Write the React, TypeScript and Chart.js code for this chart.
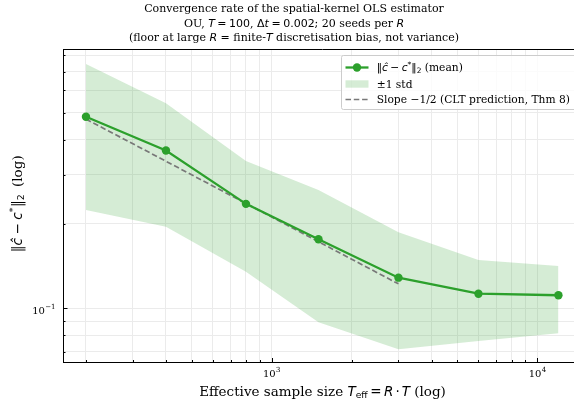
import React, { useEffect, useRef } from "react";
import { Chart, registerables } from "chart.js";

Chart.register(...registerables);

// ---------- data ----------
const T_EFF = [200, 400, 800, 1500, 3000, 6000, 12000];
const MEAN_ERR = [0.483, 0.366, 0.236, 0.1764, 0.1286, 0.1127, 0.1113];
const STD_UPPER = [0.746, 0.54, 0.336, 0.2646, 0.187, 0.1488, 0.1416];
const STD_LOWER = [0.2244, 0.1956, 0.135, 0.0891, 0.0714, 0.0764, 0.0814];
const SLOPE_X = [200, 3000];
const SLOPE_Y = [0.474, 0.1222];
const X_LIMITS = [163.9, 14720];
const Y_LIMITS = [0.064, 0.8366];

const LABEL_MEAN = "‖ĉ − c*‖₂ (mean)";
const LABEL_STD = "±1 std";
const LABEL_SLOPE = "Slope −1/2 (CLT prediction, Thm 8)";

// ---------- styles ----------
const GREEN = "#2ca02c";
const BAND = "rgba(44,160,44,0.2)";
const SLOPE_GRAY = "#787878";
const GRID = "#ebebeb";

const SERIF = '"DejaVu Serif", serif';
const SANS = '"DejaVu Sans", sans-serif';
const sf = (s: number) => `${s}px ${SERIF}`;
const mi = (s: number) => `italic ${s}px ${SANS}`;
const mr = (s: number) => `${s}px ${SANS}`;

type Seg = { t: string; f: string; dy?: number; pre?: number; post?: number };

const TS = 11; // title size
const TITLE_LINES: Seg[][] = [
  [{ t: "Convergence rate of the spatial-kernel OLS estimator", f: sf(TS) }],
  [
    { t: "OU, ", f: sf(TS) },
    { t: "T", f: mi(TS) },
    { t: "=", f: mr(TS), pre: 2.5, post: 2.5 },
    { t: "100", f: mr(TS) },
    { t: ", ", f: sf(TS) },
    { t: "Δ", f: mr(TS) },
    { t: "t", f: mi(TS) },
    { t: "=", f: mr(TS), pre: 2.5, post: 2.5 },
    { t: "0.002", f: mr(TS) },
    { t: "; 20 seeds per ", f: sf(TS) },
    { t: "R", f: mi(TS) },
  ],
  [
    { t: "(floor at large ", f: sf(TS) },
    { t: "R", f: mi(TS) },
    { t: " = finite-", f: sf(TS) },
    { t: "T", f: mi(TS) },
    { t: " discretisation bias, not variance)", f: sf(TS) },
  ],
];

const LS = 13.5; // axis label size
const X_LABEL: Seg[] = [
  { t: "Effective sample size ", f: sf(LS) },
  { t: "T", f: mi(LS) },
  { t: "eff", f: mr(LS * 0.68), dy: 2.8 },
  { t: "=", f: mr(LS), pre: 2.5, post: 2.5 },
  { t: "R", f: mi(LS) },
  { t: "·", f: mr(LS), pre: 2, post: 2 },
  { t: "T", f: mi(LS) },
  { t: " (log)", f: sf(LS) },
];
const Y_LABEL: Seg[] = [
  { t: "‖", f: mr(LS) },
  { t: "ĉ", f: mi(LS) },
  { t: "−", f: mr(LS), pre: 3.5, post: 3.5 },
  { t: "c", f: mi(LS) },
  { t: "*", f: mr(LS * 0.7), dy: -5.5 },
  { t: "‖", f: mr(LS), pre: 0.5 },
  { t: "2", f: mr(LS * 0.7), dy: 2.8, post: 3 },
  { t: " (log)", f: sf(LS) },
];

const GS = 10.7; // legend size
const LEGEND_RICH: Record<string, Seg[]> = {
  [LABEL_MEAN]: [
    { t: "‖", f: mr(GS) },
    { t: "ĉ", f: mi(GS) },
    { t: "−", f: mr(GS), pre: 2.4, post: 2.4 },
    { t: "c", f: mi(GS) },
    { t: "*", f: mr(GS * 0.7), dy: -4.5 },
    { t: "‖", f: mr(GS) },
    { t: "2", f: mr(GS * 0.7), dy: 2.2 },
    { t: " (mean)", f: sf(GS) },
  ],
  [LABEL_STD]: [{ t: LABEL_STD, f: sf(GS) }],
  [LABEL_SLOPE]: [{ t: LABEL_SLOPE, f: sf(GS) }],
};

const KS = 10; // tick label size

// ---------- helpers ----------
function richWidth(ctx: CanvasRenderingContext2D, segs: Seg[]) {
  let w = 0;
  for (const s of segs) {
    ctx.font = s.f;
    w += (s.pre || 0) + ctx.measureText(s.t).width + (s.post || 0);
  }
  return w;
}
function drawRich(
  ctx: CanvasRenderingContext2D,
  segs: Seg[],
  x: number,
  y: number,
  align: "left" | "center" | "right"
) {
  const w = richWidth(ctx, segs);
  let cx = align === "center" ? x - w / 2 : align === "right" ? x - w : x;
  ctx.textAlign = "left";
  ctx.textBaseline = "alphabetic";
  for (const s of segs) {
    ctx.font = s.f;
    cx += s.pre || 0;
    ctx.fillText(s.t, cx, y + (s.dy || 0));
    cx += ctx.measureText(s.t).width + (s.post || 0);
  }
}
function isPow10(v: number) {
  const l = Math.log10(v);
  return Math.abs(l - Math.round(l)) < 1e-9;
}
function isDecadeMultiple(v: number) {
  const e = Math.floor(Math.log10(v) + 1e-12);
  const m = v / Math.pow(10, e);
  return Math.abs(m - Math.round(m)) < 1e-6;
}
function powLabel(v: number): Seg[] {
  const e = Math.round(Math.log10(v));
  const es = e < 0 ? "−" + String(-e) : String(e);
  return [
    { t: "10", f: sf(KS) },
    { t: es, f: sf(KS * 0.7), dy: -4.5, pre: 0.3 },
  ];
}
function filterTicks(scale: any) {
  scale.ticks = scale.ticks.filter((t: any) => isDecadeMultiple(t.value));
}

const decor = {
  id: "decor",
  afterDraw(chart: any) {
    const ctx: CanvasRenderingContext2D = chart.ctx;
    const a = chart.chartArea;
    const xs = chart.scales.x;
    const ys = chart.scales.y;
    ctx.save();
    ctx.fillStyle = "#000";
    ctx.strokeStyle = "#000";
    ctx.lineWidth = 1;

    // top / right spines
    ctx.beginPath();
    ctx.moveTo(a.left, Math.round(a.top) - 0.5);
    ctx.lineTo(a.right, Math.round(a.top) - 0.5);
    ctx.moveTo(Math.round(a.right) + 0.5, a.top);
    ctx.lineTo(Math.round(a.right) + 0.5, a.bottom);
    ctx.stroke();

    // inward ticks
    ctx.beginPath();
    for (const t of xs.ticks) {
      const px = Math.round(xs.getPixelForValue(t.value)) + 0.5;
      const len = isPow10(t.value) ? 4.5 : 2.5;
      ctx.moveTo(px, a.bottom);
      ctx.lineTo(px, a.bottom - len);
    }
    for (const t of ys.ticks) {
      const py = Math.round(ys.getPixelForValue(t.value)) + 0.5;
      const len = isPow10(t.value) ? 4.5 : 2.5;
      ctx.moveTo(a.left, py);
      ctx.lineTo(a.left + len, py);
    }
    ctx.stroke();

    // tick labels (decades only)
    for (const t of xs.ticks) {
      if (!isPow10(t.value)) continue;
      drawRich(ctx, powLabel(t.value), xs.getPixelForValue(t.value), a.bottom + 14, "center");
    }
    for (const t of ys.ticks) {
      if (!isPow10(t.value)) continue;
      drawRich(ctx, powLabel(t.value), a.left - 7.5, ys.getPixelForValue(t.value) + 5.5, "right");
    }

    // axis labels
    drawRich(ctx, X_LABEL, (a.left + a.right) / 2, 395.5, "center");
    ctx.save();
    ctx.translate(21.5, (a.top + a.bottom) / 2 - 2.5);
    ctx.rotate(-Math.PI / 2);
    drawRich(ctx, Y_LABEL, 0, 0, "center");
    ctx.restore();

    // title
    const baselines = [12.3, 26.7, 41.3];
    TITLE_LINES.forEach((segs, i) => drawRich(ctx, segs, 294, baselines[i], "center"));

    // legend
    const bx = 341.5;
    const by = 55.5;
    const bw = 235;
    const bh = 54;
    const r = 2;
    ctx.beginPath();
    ctx.moveTo(bx + r, by);
    ctx.lineTo(bx + bw - r, by);
    ctx.arcTo(bx + bw, by, bx + bw, by + r, r);
    ctx.lineTo(bx + bw, by + bh - r);
    ctx.arcTo(bx + bw, by + bh, bx + bw - r, by + bh, r);
    ctx.lineTo(bx + r, by + bh);
    ctx.arcTo(bx, by + bh, bx, by + bh - r, r);
    ctx.lineTo(bx, by + r);
    ctx.arcTo(bx, by, bx + r, by, r);
    ctx.closePath();
    ctx.fillStyle = "rgba(255,255,255,0.8)";
    ctx.fill();
    ctx.strokeStyle = "#cccccc";
    ctx.stroke();

    const ds = chart.data.datasets;
    const entries = [ds[0], ds[2], ds[1]];
    const rowsMid = [67.5, 84, 99.5];
    const rowsBase = [71, 87.5, 102.7];
    const hx0 = 345.5;
    const hx1 = 368.5;
    entries.forEach((d: any, i: number) => {
      const y = rowsMid[i];
      if (d.fill) {
        ctx.fillStyle = d.backgroundColor;
        ctx.fillRect(hx0, y - 3.7, hx1 - hx0, 7.4);
      } else {
        ctx.strokeStyle = d.borderColor;
        ctx.lineWidth = d.borderWidth;
        ctx.setLineDash(d.borderDash || []);
        ctx.beginPath();
        ctx.moveTo(hx0, y);
        ctx.lineTo(hx1, y);
        ctx.stroke();
        ctx.setLineDash([]);
        if (d.pointRadius > 0) {
          ctx.fillStyle = d.pointBackgroundColor;
          ctx.beginPath();
          ctx.arc((hx0 + hx1) / 2, y, d.pointRadius, 0, Math.PI * 2);
          ctx.fill();
        }
      }
      ctx.fillStyle = "#000";
      drawRich(ctx, LEGEND_RICH[d.label] || [{ t: d.label, f: sf(GS) }], 376.7, rowsBase[i], "left");
    });

    ctx.restore();
  },
};

export default function App() {
  const ref = useRef<HTMLCanvasElement | null>(null);
  useEffect(() => {
    document.body.style.margin = "0";
    const canvas = ref.current!;
    const chart = new Chart(canvas, {
      type: "line",
      data: {
        datasets: [
          {
            label: LABEL_MEAN,
            data: T_EFF.map((x, i) => ({ x, y: MEAN_ERR[i] })),
            borderColor: GREEN,
            backgroundColor: GREEN,
            borderWidth: 2.3,
            pointRadius: 4.2,
            pointBorderWidth: 0,
            pointBackgroundColor: GREEN,
            fill: false,
            order: 0,
          },
          {
            label: LABEL_SLOPE,
            data: SLOPE_X.map((x, i) => ({ x, y: SLOPE_Y[i] })),
            borderColor: SLOPE_GRAY,
            borderWidth: 1.7,
            borderDash: [5.5, 2.8],
            pointRadius: 0,
            fill: false,
            order: 1,
          },
          {
            label: LABEL_STD,
            data: T_EFF.map((x, i) => ({ x, y: STD_UPPER[i] })),
            borderColor: "rgba(0,0,0,0)",
            borderWidth: 0,
            pointRadius: 0,
            backgroundColor: BAND,
            fill: "+1",
            order: 2,
          },
          {
            label: "_lower",
            data: T_EFF.map((x, i) => ({ x, y: STD_LOWER[i] })),
            borderColor: "rgba(0,0,0,0)",
            borderWidth: 0,
            pointRadius: 0,
            fill: false,
            order: 3,
          },
        ],
      } as any,
      options: {
        responsive: false,
        animation: false,
        devicePixelRatio: 1,
        events: [],
        layout: { padding: { top: 50, right: 10, left: 0, bottom: 0 } },
        plugins: {
          legend: { display: false },
          tooltip: { enabled: false },
          title: { display: false },
        },
        scales: {
          x: {
            type: "logarithmic",
            position: "bottom",
            min: X_LIMITS[0],
            max: X_LIMITS[1],
            afterBuildTicks: filterTicks,
            afterFit: (s: any) => {
              s.height = 42.5;
            },
            ticks: { display: false, autoSkip: false },
            grid: { color: GRID, lineWidth: 1, drawTicks: false },
            border: { color: "#000", width: 1 },
          },
          y: {
            type: "logarithmic",
            position: "left",
            min: Y_LIMITS[0],
            max: Y_LIMITS[1],
            afterBuildTicks: filterTicks,
            afterFit: (s: any) => {
              s.width = 63;
            },
            ticks: { display: false, autoSkip: false },
            grid: { color: GRID, lineWidth: 1, drawTicks: false },
            border: { color: "#000", width: 1 },
          },
        },
      } as any,
      plugins: [decor],
    });
    return () => chart.destroy();
  }, []);
  return (
    <div style={{ width: 574, height: 405, overflow: "hidden", position: "relative", background: "#fff" }}>
      <canvas ref={ref} width={592} height={405} style={{ display: "block" }} />
    </div>
  );
}
